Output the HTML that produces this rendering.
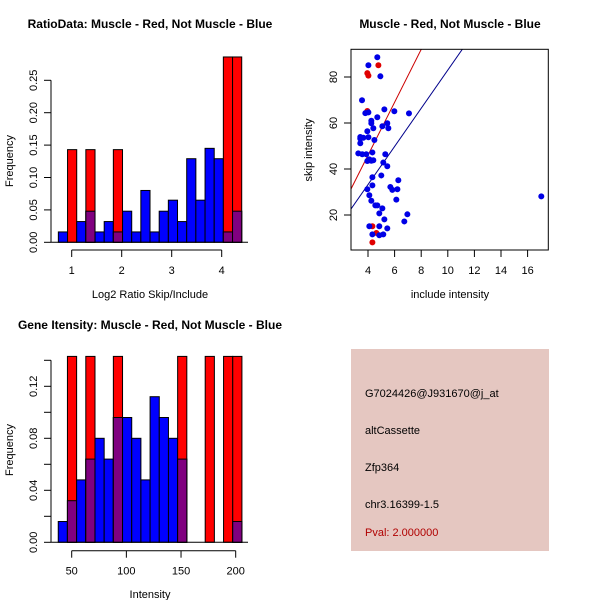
<!DOCTYPE html>
<html><head><meta charset="utf-8"><style>
body{margin:0;background:#fff}
svg{display:block;font-family:"Liberation Sans",sans-serif}
</style></head><body>
<svg id="c" width="600" height="600" xmlns="http://www.w3.org/2000/svg">
<rect x="0" y="0" width="600" height="600" fill="#fff"/>
<text x="150" y="28" text-anchor="middle" font-size="12" font-weight="bold">RatioData: Muscle - Red, Not Muscle - Blue</text>
<text x="150" y="298" text-anchor="middle" font-size="11">Log2 Ratio Skip/Include</text>
<text transform="translate(13,161) rotate(-90)" text-anchor="middle" font-size="11">Frequency</text>
<text x="450" y="28" text-anchor="middle" font-size="12" font-weight="bold">Muscle - Red, Not Muscle - Blue</text>
<text x="450" y="298" text-anchor="middle" font-size="11">include intensity</text>
<text transform="translate(312,150) rotate(-90)" text-anchor="middle" font-size="11">skip intensity</text>
<text x="150" y="329" text-anchor="middle" font-size="12" font-weight="bold">Gene Itensity: Muscle - Red, Not Muscle - Blue</text>
<text x="150" y="598" text-anchor="middle" font-size="11">Intensity</text>
<text transform="translate(13,450) rotate(-90)" text-anchor="middle" font-size="11">Frequency</text>
<g>
<rect x="351" y="349" width="198" height="202" fill="#e5c7c1"/>
<text x="365" y="397" font-size="11">G7024426@J931670@j_at</text>
<text x="365" y="434" font-size="11">altCassette</text>
<text x="365" y="471" font-size="11">Zfp364</text>
<text x="365" y="508" font-size="11">chr3.16399-1.5</text>
<text x="365" y="536" font-size="11" fill="#b00000">Pval: 2.000000</text>
</g>
</svg>
<script>
// Ratio histogram data
const ratioBins = [0.733,0.917,1.1,1.283,1.467,1.65,1.833,2.017,2.2,2.383,2.567,2.75,2.933,3.117,3.3,3.483,3.667,3.85,4.033,4.217];
const ratioBlue = [0.016,0,0.032,0.048,0.016,0.032,0.016,0.048,0.016,0.080,0.016,0.048,0.065,0.032,0.129,0.065,0.145,0.129,0.016,0.048];
const ratioRed = [0,0.143,0,0.143,0,0,0.143,0,0,0,0,0,0,0,0,0,0,0,0.286,0.286];
const ratioTicksY = [0,0.05,0.10,0.15,0.20,0.25];
const ratioTickLabelsY = ["0.00","0.05","0.10","0.15","0.20","0.25"];
const ratioTicksX = [1,2,3,4];
// Intensity histogram data
const intBins = [37.7,46.1,54.5,62.9,71.3,79.7,88.1,96.5,104.9,113.3,121.7,130.1,138.5,146.9,155.3,163.7,172.1,180.5,188.9,197.3];
const intBlue = [0.016,0.032,0.048,0.064,0.080,0.064,0.096,0.096,0.080,0.048,0.112,0.096,0.080,0.064,0,0,0,0,0,0.016];
const intRed = [0,0.143,0,0.143,0,0,0.143,0,0,0,0,0,0,0.143,0,0,0.143,0,0.143,0.143];
const intTicksY = [0,0.02,0.04,0.06,0.08,0.10,0.12,0.14];
const intTickLabelsY = ["0.00","","0.04","","0.08","","0.12",""];
const intTicksX = [50,100,150,200];
// Scatter data
const blueX = [4.70,4.03,4.93,3.55,5.23,5.98,7.08,4.03,3.80,4.70,4.25,4.25,5.45,4.40,5.53,3.95,3.42,3.42,3.65,4.03,4.48,5.08,3.42,3.27,3.57,3.87,4.33,5.30,4.10,3.95,4.25,4.40,5.15,5.45,5.00,4.33,6.28,5.68,5.83,6.21,3.95,4.33,4.10,4.25,4.55,4.70,6.13,5.08,4.85,6.96,6.73,5.23,4.10,4.85,4.33,4.85,5.15,5.45,17.03];
const blueY = [88.6,85.1,80.3,69.9,65.9,65.1,64.2,64.6,64.3,62.5,61.0,59.9,59.9,57.7,57.7,56.4,53.9,53.2,53.6,53.8,52.6,58.6,51.2,46.8,46.4,46.4,47.2,46.4,44.2,43.5,43.6,43.8,42.8,41.2,37.2,36.4,35.1,32.2,30.9,31.2,31.2,32.9,28.6,26.2,24.2,24.2,26.7,22.9,20.7,20.3,17.2,18.1,15.1,15.1,11.6,11.2,11.6,14.2,28.1];
const redX = [3.95,4.03,4.78,3.95,4.33,4.63,4.33];
const redY = [81.7,80.6,85.1,65.2,15.1,12.2,8.1];
const redSlope = [11.5];
const blueSlope = [8.3];
const scatterTicksX = [4,6,8,10,12,14,16];
const scatterTicksY = [20,40,60,80];

const svg = document.getElementById('c');
const NS = 'http://www.w3.org/2000/svg';
function mk(tag, attrs, parent){const e=document.createElementNS(NS,tag);for(const k in attrs)e.setAttribute(k,attrs[k]);(parent||svg).appendChild(e);return e;}

function hist(prefix, bins, blue, red, binW, xs, ys, yTicks, yLabels, xTicks, y0, xAxisY) {
  const g = mk('g',{});
  
  
  for (let i=0;i<bins.length;i++){
    const x=xs(bins[i]), w=xs(bins[i]+binW)-x;
    if (blue[i]>0){
      const r=mk('rect',{x:x,y:ys(blue[i]),width:w,height:ys(0)-ys(blue[i]),fill:'#0000ff',stroke:'#000','stroke-width':1},g);
      
      
    }
    if (red[i]>0){
      const r=mk('rect',{x:x,y:ys(red[i]),width:w,height:ys(0)-ys(red[i]),fill:'#ff0000',stroke:'#000','stroke-width':1},g);
      
      
      const ov=Math.min(red[i],blue[i]);
      if (ov>0){
        const p=mk('rect',{x:x,y:ys(ov),width:w,height:ys(0)-ys(ov),fill:'#800080',stroke:'#000','stroke-width':1},g);
        
        
      }
    }
  }
  mk('line',{x1:51,x2:248,y1:ys(0),y2:ys(0),stroke:'#000'},g);
  // y axis
  const ya=mk('g',{},g);
  
  
  mk('line',{x1:51,x2:51,y1:ys(yTicks[0]),y2:ys(yTicks[yTicks.length-1]),stroke:'#000'},ya);
  yTicks.forEach((t,i)=>{
    mk('line',{x1:44,x2:51,y1:ys(t),y2:ys(t),stroke:'#000'},ya);
    if (yLabels[i]){const tx=mk('text',{transform:`translate(37,${ys(t)}) rotate(-90)`,'text-anchor':'middle','font-size':11},ya);tx.textContent=yLabels[i];}
  });
  const xa=mk('g',{},g);
  
  
  mk('line',{x1:xs(xTicks[0]),x2:xs(xTicks[xTicks.length-1]),y1:xAxisY,y2:xAxisY,stroke:'#000'},xa);
  xTicks.forEach(t=>{
    mk('line',{x1:xs(t),x2:xs(t),y1:xAxisY,y2:xAxisY+7,stroke:'#000'},xa);
    const tx=mk('text',{x:xs(t),y:xAxisY+24,'text-anchor':'middle','font-size':11},xa);tx.textContent=t;
  });
}
hist('ratio', ratioBins, ratioBlue, ratioRed, 0.1833, v=>71.7+(v-1)*50, v=>242.3-v*648, ratioTicksY, ratioTickLabelsY, ratioTicksX, 242.3, 250);
hist('intensity', intBins, intBlue, intRed, 8.4, v=>71.7+(v-50)*1.0933, v=>542.3-v*1300, intTicksY, intTickLabelsY, intTicksX, 542.3, 550.7);

// scatter
const sx=v=>368+(v-4)*13.3, sy=v=>215-(v-20)*2.3;
const sg=mk('g',{});


const clip=mk('clipPath',{id:'sc'},sg);mk('rect',{x:351,y:49.3,width:197.3,height:200.7},clip);
const lg=mk('g',{'clip-path':'url(#sc)'},sg);
const l1=mk('line',{x1:sx(2),y1:sy(redSlope[0]*2),x2:sx(20),y2:sy(redSlope[0]*20),stroke:'#cc0000'},lg);


const l2=mk('line',{x1:sx(2),y1:sy(blueSlope[0]*2),x2:sx(20),y2:sy(blueSlope[0]*20),stroke:'#00008b'},lg);


redX.forEach((x,i)=>{const c=mk('circle',{cx:sx(x),cy:sy(redY[i]),r:3,fill:'#e00000'},lg);

});
blueX.forEach((x,i)=>{const c=mk('circle',{cx:sx(x),cy:sy(blueY[i]),r:3,fill:'#0000e6'},lg);

});
mk('rect',{x:351,y:49.3,width:197.3,height:200.7,fill:'none',stroke:'#000'},sg);
scatterTicksX.forEach(t=>{mk('line',{x1:sx(t),x2:sx(t),y1:250,y2:257,stroke:'#000'},sg);const tx=mk('text',{x:sx(t),y:274,'text-anchor':'middle','font-size':11},sg);tx.textContent=t;});
scatterTicksY.forEach(t=>{mk('line',{x1:344,x2:351,y1:sy(t),y2:sy(t),stroke:'#000'},sg);const tx=mk('text',{transform:`translate(337,${sy(t)}) rotate(-90)`,'text-anchor':'middle','font-size':11},sg);tx.textContent=t;});
</script>
</body></html>
